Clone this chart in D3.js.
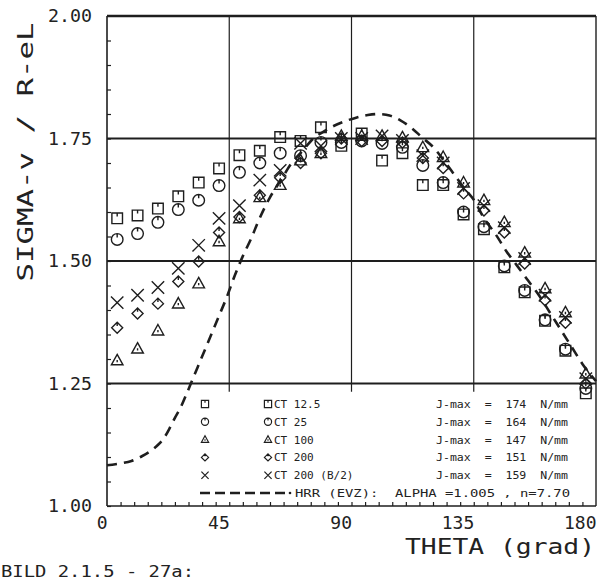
<!DOCTYPE html>
<html><head><meta charset="utf-8">
<script src="https://cdn.jsdelivr.net/npm/d3@7/dist/d3.min.js"></script>
<style>
html,body{margin:0;padding:0;background:#fff;}
svg{display:block;}
text{font-family:"DejaVu Sans Mono","Liberation Mono",monospace;fill:#222;}
</style></head>
<body>
<svg id="chart" width="597" height="583"></svg>
<script>
// ---- data ----
const theta = [3.75,11.25,18.75,26.25,33.75,41.25,48.75,56.25,63.75,71.25,78.75,86.25,93.75,101.25,108.75,116.25,123.75,131.25,138.75,146.25,153.75,161.25,168.75,176.25];
const ct12_5 = [1.587,1.593,1.607,1.632,1.660,1.689,1.716,1.725,1.753,1.745,1.773,1.735,1.760,1.705,1.720,1.655,1.655,1.595,1.565,1.487,1.436,1.378,1.317,1.230];
const ct25   = [1.544,1.556,1.579,1.605,1.624,1.654,1.681,1.700,1.720,1.715,1.742,1.742,1.745,1.740,1.732,1.695,1.660,1.600,1.570,1.490,1.440,1.380,1.320,1.240];
const ct100  = [1.297,1.321,1.358,1.413,1.454,1.540,1.587,1.630,1.655,1.705,1.720,1.755,1.755,1.755,1.752,1.732,1.712,1.660,1.624,1.579,1.517,1.444,1.395,1.270];
const ct200  = [1.364,1.393,1.413,1.458,1.499,1.558,1.590,1.634,1.670,1.700,1.720,1.750,1.745,1.745,1.742,1.710,1.690,1.638,1.603,1.558,1.495,1.420,1.374,1.250];
const ct200b = [1.415,1.430,1.446,1.485,1.532,1.587,1.613,1.665,1.685,1.740,1.735,1.750,1.750,1.755,1.746,1.715,1.700,1.648,1.613,1.568,1.505,1.430,1.385,1.260];
const hrrTheta = [0,5,9,13,16,19,21,23,25,27,29,32,35,38,41,44,47,50,53,56,60,64,68,72,76,80,84,88,92,96,100,104,108,112,116,120,124,128,132,135,139,143,147,151,155,159,163,167,171,175,178,180];
const hrrValue = [1.083,1.087,1.092,1.102,1.112,1.126,1.139,1.158,1.180,1.200,1.225,1.265,1.305,1.345,1.385,1.425,1.470,1.510,1.545,1.585,1.630,1.665,1.700,1.725,1.750,1.765,1.777,1.786,1.793,1.798,1.800,1.797,1.787,1.772,1.752,1.733,1.705,1.675,1.645,1.625,1.585,1.555,1.520,1.490,1.460,1.430,1.395,1.360,1.325,1.290,1.268,1.255];
const seriesNames = ["CT 12.5","CT 25","CT 100","CT 200","CT 200 (B/2)"];
const seriesShapes = ["square","circle","triangle","diamond","cross"];
const jmax = [174,164,147,151,159];
const xTickLabels = [0,45,90,135,180];
const yTickLabels = [1.00,1.25,1.50,1.75,2.00];
const hGrid = [1.25,1.50,1.75];
const vGrid = [45,90,135];
const hrrLabel = "HRR (EVZ):  ALPHA =1.005 , n=7.70";

// ---- chart ----
const svg = d3.select("#chart");
const INK = "#1e1e1e";
const x = d3.scaleLinear().domain([0,180]).range([107,596]);
const y = d3.scaleLinear().domain([1,2]).range([506,16]);

svg.append("rect").attr("width",597).attr("height",583).attr("fill","#fff");

// grid
svg.append("g").selectAll("line").data(hGrid).join("line")
  .attr("x1",x(0)).attr("x2",x(180)).attr("y1",d=>y(d)).attr("y2",d=>y(d))
  .attr("stroke",INK).attr("stroke-width",2);
svg.append("g").selectAll("line").data(vGrid).join("line")
  .attr("x1",d=>x(d)).attr("x2",d=>x(d)).attr("y1",y(2)).attr("y2",y(1.233))
  .attr("stroke",INK).attr("stroke-width",1.2);

// frame
svg.append("line").attr("x1",x(0)).attr("x2",x(180)).attr("y1",y(2)).attr("y2",y(2)).attr("stroke",INK).attr("stroke-width",2.4);
svg.append("line").attr("x1",x(0)).attr("x2",x(180)).attr("y1",y(1)).attr("y2",y(1)).attr("stroke",INK).attr("stroke-width",1.6);
svg.append("line").attr("x1",x(0)).attr("x2",x(0)).attr("y1",y(2)).attr("y2",y(1)).attr("stroke",INK).attr("stroke-width",1.6);
svg.append("line").attr("x1",x(180)).attr("x2",x(180)).attr("y1",y(2)).attr("y2",y(1)).attr("stroke",INK).attr("stroke-width",1.4);

// minor ticks (inward)
const yMinor = svg.append("g").attr("transform",`translate(${x(0)},0)`)
  .call(d3.axisLeft(y).tickValues(d3.range(20).map(i=>1+i*0.05)).tickSize(-4).tickFormat(""));
yMinor.select(".domain").remove();
yMinor.selectAll("line").attr("stroke",INK).attr("stroke-width",1.2);
const xMinor = svg.append("g").attr("transform",`translate(0,${y(1)})`)
  .call(d3.axisBottom(x).tickValues(d3.range(1,36).map(i=>i*5)).tickSize(-4).tickFormat(""));
xMinor.select(".domain").remove();
xMinor.selectAll("line").attr("stroke",INK).attr("stroke-width",1.2);

// tick labels
const yLab = svg.append("g").attr("transform",`translate(${x(0)},0)`)
  .call(d3.axisLeft(y).tickValues(yTickLabels).tickSize(0).tickPadding(15).tickFormat(d3.format(".2f")));
yLab.select(".domain").remove();
yLab.selectAll("text").attr("font-size",18).attr("font-family","DejaVu Sans Mono").attr("fill","#222")
  .attr("textLength",44).attr("lengthAdjust","spacingAndGlyphs");
const xLab = svg.append("g").attr("transform",`translate(0,${y(1)})`)
  .call(d3.axisBottom(x).tickValues(xTickLabels).tickSize(0).tickPadding(10).tickFormat(d3.format("d")));
xLab.select(".domain").remove();
xLab.selectAll("text").attr("font-size",18).attr("font-family","DejaVu Sans Mono").attr("fill","#222")
  .attr("text-anchor","end");

// titles
svg.append("text").attr("transform","translate(33,152) rotate(-90)")
  .attr("text-anchor","middle").attr("font-size",20.5)
  .attr("textLength",259).attr("lengthAdjust","spacingAndGlyphs")
  .text("SIGMA-v / R-eL");
svg.append("text").attr("x",405).attr("y",554).attr("font-size",20.5)
  .attr("textLength",190).attr("lengthAdjust","spacingAndGlyphs")
  .text("THETA (grad)");
svg.append("text").attr("x",1).attr("y",577).attr("font-size",15.5)
  .attr("textLength",193).attr("lengthAdjust","spacingAndGlyphs")
  .text("BILD 2.1.5 - 27a:");

// symbol paths
function sym(shape, s){
  switch(shape){
    case "square": return `M${-s},${-s}H${s}V${s}H${-s}Z M0,${-s}V${-s*0.35}`;
    case "circle": return `M${-s},0A${s},${s} 0 1 0 ${s},0A${s},${s} 0 1 0 ${-s},0Z M0,${-s}V${-s*0.35}`;
    case "triangle": return `M0,${-s*1.05}L${s},${s*0.75}H${-s}Z M0,${-s*0.1}V${s*0.3}`;
    case "diamond": return `M0,${-s}L${s},0L0,${s}L${-s},0Z M0,${-s}V${-s*0.3}`;
    case "cross": return `M${-s},${-s}L${s},${s}M${s},${-s}L${-s},${s}`;
  }
}
const allSeries = [ct12_5, ct25, ct100, ct200, ct200b];
const sizes = [5.3,5.8,5.8,5.5,6.2];

// dashed HRR curve
const line = d3.line().x((d,i)=>x(hrrTheta[i])).y(d=>y(d)).curve(d3.curveCatmullRom);
svg.append("path").attr("d",line(hrrValue)).attr("fill","none").attr("stroke",INK)
  .attr("stroke-width",2.6).attr("stroke-dasharray","10,7");

// points
allSeries.forEach((vals,k)=>{
  svg.append("g").selectAll("path").data(vals).join("path")
    .attr("transform",(d,i)=>`translate(${x(theta[i])},${y(d)})`)
    .attr("d",sym(seriesShapes[k],sizes[k]))
    .attr("fill","none").attr("stroke",INK).attr("stroke-width",1.4);
});

// legend
const rowY = i => 404 + i*17.8;
seriesNames.forEach((name,i)=>{
  svg.append("path").attr("transform",`translate(205,${rowY(i)})`)
    .attr("d",sym(seriesShapes[i],3.6)).attr("fill","none").attr("stroke",INK).attr("stroke-width",1.2);
  svg.append("path").attr("transform",`translate(268,${rowY(i)})`)
    .attr("d",sym(seriesShapes[i],3.6)).attr("fill","none").attr("stroke",INK).attr("stroke-width",1.2);
  svg.append("text").attr("x",274).attr("y",rowY(i)+4).attr("font-size",11).text(name);
  svg.append("text").attr("x",436).attr("y",rowY(i)+4).attr("font-size",11)
    .style("white-space","pre").attr("textLength",132).attr("lengthAdjust","spacingAndGlyphs")
    .text(`J-max  =  ${jmax[i]}  N/mm`);
});
const hy = rowY(5);
svg.append("line").attr("x1",200).attr("x2",286).attr("y1",hy).attr("y2",hy)
  .attr("stroke",INK).attr("stroke-width",2.4).attr("stroke-dasharray","10,5");
svg.append("circle").attr("cx",290).attr("cy",hy).attr("r",1.3).attr("fill",INK);
svg.append("text").attr("x",295).attr("y",hy+4).attr("font-size",11)
  .style("white-space","pre").attr("textLength",275).attr("lengthAdjust","spacingAndGlyphs")
  .text(hrrLabel);
</script>
</body></html>
